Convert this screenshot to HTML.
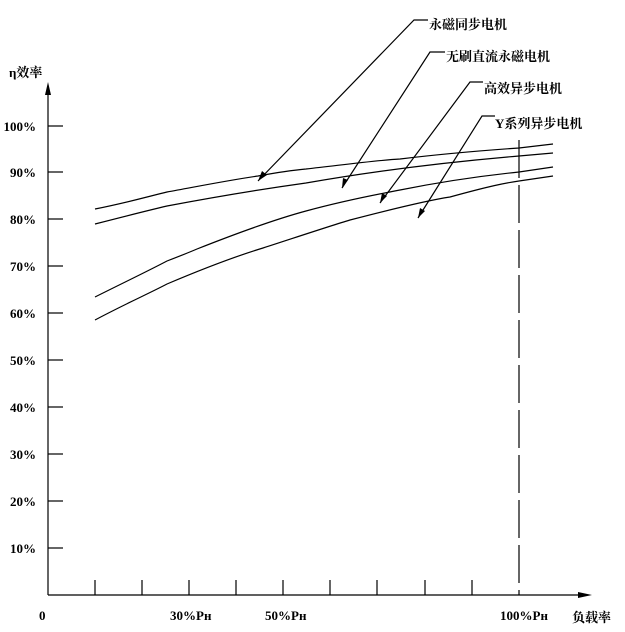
<!DOCTYPE html>
<html><head><meta charset="utf-8"><style>
html,body{margin:0;padding:0;background:#fff;}
svg{display:block}
text{font-family:"Liberation Serif","Noto Serif CJK SC","Noto Sans CJK SC",serif;font-weight:bold;fill:#000;}
</style></head><body>
<svg width="625" height="632" viewBox="0 0 625 632" xmlns="http://www.w3.org/2000/svg">
<g stroke="#000" stroke-width="1.2" fill="none">
<line x1="48" y1="95" x2="48" y2="595"/>
<line x1="48" y1="595" x2="580" y2="595"/>
<g stroke-width="1.2">
<line x1="48" y1="126" x2="63" y2="126"/><line x1="48" y1="172" x2="63" y2="172"/>
<line x1="48" y1="219" x2="63" y2="219"/><line x1="48" y1="266" x2="63" y2="266"/>
<line x1="48" y1="313" x2="63" y2="313"/><line x1="48" y1="360" x2="63" y2="360"/>
<line x1="48" y1="407" x2="63" y2="407"/><line x1="48" y1="454" x2="63" y2="454"/>
<line x1="48" y1="501" x2="63" y2="501"/><line x1="48" y1="548" x2="63" y2="548"/>
<line x1="95" y1="580" x2="95" y2="595"/><line x1="142" y1="580" x2="142" y2="595"/>
<line x1="189" y1="580" x2="189" y2="595"/><line x1="236" y1="580" x2="236" y2="595"/>
<line x1="283" y1="580" x2="283" y2="595"/><line x1="330" y1="580" x2="330" y2="595"/>
<line x1="377" y1="580" x2="377" y2="595"/><line x1="425" y1="580" x2="425" y2="595"/>
<line x1="472" y1="580" x2="472" y2="595"/>
</g>
<line x1="519" y1="140" x2="519" y2="595" stroke-dasharray="38,7"/>
<path d="M95,209 C130,202 150,196 167,192 C200,186 230,180 258,176 C280,172 295,170 306,169 C350,164 380,160 400,159 C450,153 490,150 519,148 L553,144"/>
<path d="M95,224 C130,215 150,210 167,206 C220,196 270,188 306,183 C380,170 460,161 519,156 L553,153"/>
<path d="M95,297 C125,282 150,270 167,261 C180,256 190,252 197,249 C240,232 280,218 306,211 C350,199 380,194 400,190 C450,180 490,175 519,172 L553,167"/>
<path d="M95,320 C125,304 150,293 167,284 C200,270 230,258 263,248 C300,236 330,226 350,220 C400,207 430,200 450,197 C490,186 505,183 519,181 L553,176"/>
<polyline points="428,20 414,20 258,181"/>
<polyline points="445,52 430,52 342,188"/>
<polyline points="483,82 470,82 380,203"/>
<polyline points="495,116 482,116 418,218"/>
</g>
<g fill="#000">
<polygon points="48,82 45,95 51,95"/>
<polygon points="592,595 578,592 578,598"/>
<polygon points="258,181 262,171 267,175"/>
<polygon points="342,188 343,178 348,180"/>
<polygon points="380,203 382,193 387,196"/>
<polygon points="418,218 420,208 425,211"/>
</g>
<g font-size="13" text-anchor="end">
<text x="36" y="131">100%</text><text x="36" y="177">90%</text><text x="36" y="224">80%</text>
<text x="36" y="271">70%</text><text x="36" y="318">60%</text><text x="36" y="365">50%</text>
<text x="36" y="412">40%</text><text x="36" y="459">30%</text><text x="36" y="506">20%</text>
<text x="36" y="553">10%</text>
</g>
<g font-size="13">
<text x="9" y="77">η效率</text>
<text x="39" y="620">0</text>
<text x="170" y="620">30%Pн</text>
<text x="265" y="620">50%Pн</text>
<text x="500" y="620">100%Pн</text>
<text x="572" y="622">负载率</text>
<text x="429" y="29">永磁同步电机</text>
<text x="446" y="61">无刷直流永磁电机</text>
<text x="484" y="93">高效异步电机</text>
<text x="495" y="128">Y系列异步电机</text>
</g>
</svg>
</body></html>
